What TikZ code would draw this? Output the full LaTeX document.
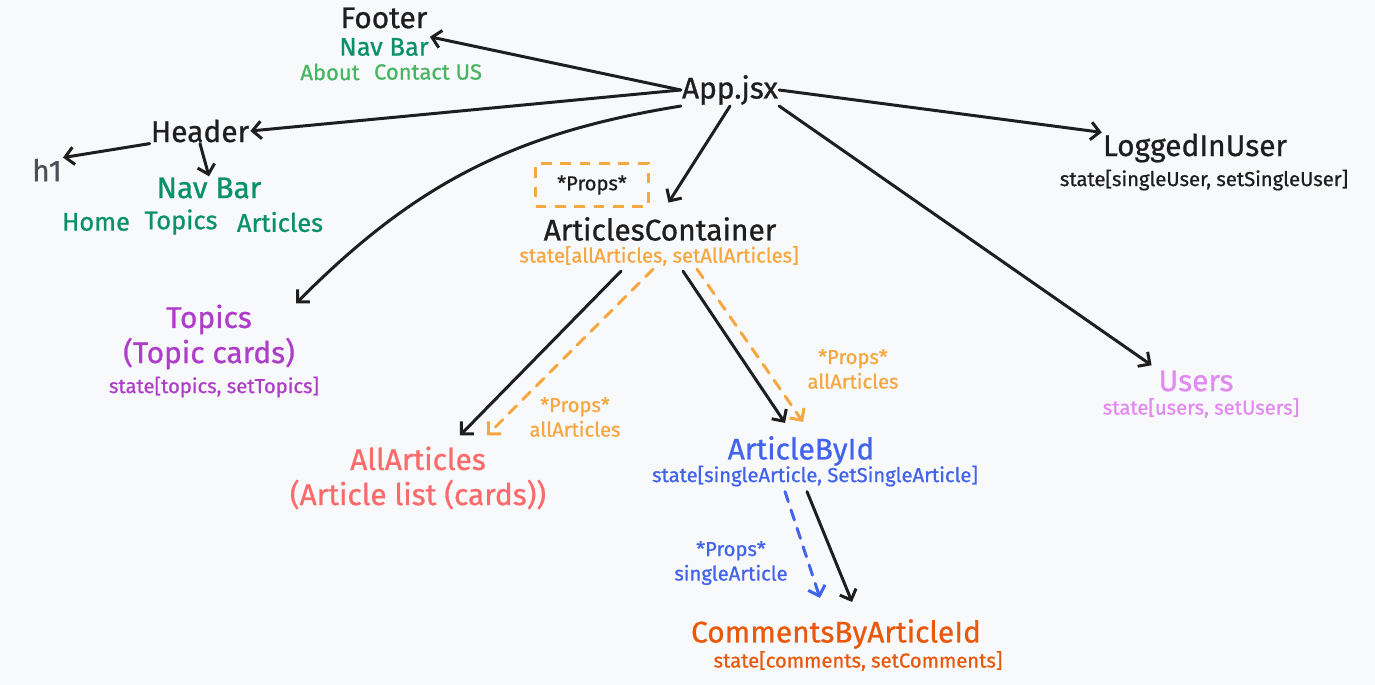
\documentclass[tikz,border=0pt]{standalone}
\usepackage{fontspec}
\setmainfont{Fira Sans}[FakeBold = 0.8]
\usepackage{xcolor}
\usetikzlibrary{arrows.meta,positioning,calc}
\definecolor{ink}{HTML}{1E1E1E}
\definecolor{paper}{HTML}{F8F9FB}
\definecolor{navgreen}{HTML}{099268}
\definecolor{lightgreen}{HTML}{47B562}
\definecolor{hgrey}{HTML}{495057}
\definecolor{propor}{HTML}{F5A742}
\definecolor{topicpurple}{HTML}{AE3EC9}
\definecolor{userviolet}{HTML}{E28AF2}
\definecolor{listred}{HTML}{FA6B6B}
\definecolor{byidblue}{HTML}{4263EB}
\definecolor{commentor}{HTML}{E8590C}

\begin{document}
\begin{tikzpicture}[x = .02cm, y = -.02cm,
  every node/.style = {inner sep = 0.5pt, text = ink},
  title/.style = {font = \fontsize{17}{20}\selectfont},
  item/.style = {font = \fontsize{14.5}{17}\selectfont},
  small/.style = {font = \fontsize{11.5}{14}\selectfont},
  link/.style = {-{Straight Barb[length=5pt,width=10pt]}, line width = 1.7pt, ink, line cap = round},
  plink/.style = {link, dash pattern = on 6pt off 5pt}]
\fill[paper] (0,0) rectangle (1375,685);
\useasboundingbox (0,0) rectangle (1375,685);

% app and footer
\node[title] (app) at (730,90) {App.jsx};
\node[title] (footer) at (384,18) {Footer};
\node[item, text = navgreen] (fnav) at (384,47) {Nav Bar};
\node[font = \fontsize{12.5}{15}\selectfont, text = lightgreen] (about) at (330,72) {About};
\node[font = \fontsize{12.5}{15}\selectfont, text = lightgreen] (contact) at (428,72) {Contact US};

% header
\node[title] (header) at (200,131) {Header};
\node[title, text = hgrey] (h1) at (47,170) {h1};
\node[title, text = navgreen] (hnav) at (209,188) {Nav Bar};
\node[item, text = navgreen] (home) at (96,222) {Home};
\node[item, text = navgreen] (htopics) at (181,222) {Topics};
\node[item, text = navgreen] (harticles) at (280,222) {Articles};

% logged in user and users
\node[title] (liu) at (1195,148) {LoggedInUser};
\node[small] (liustate) at (1204,180) {state[singleUser, setSingleUser]};
\node[title, text = userviolet] (users) at (1196,381) {Users};
\node[small, text = userviolet] (usersstate) at (1201,408) {state[users, setUsers]};

% topics
\node[title, text = topicpurple, align = center] (topics) at (209,337) {Topics\\(Topic cards)};
\node[small, text = topicpurple] (topicsstate) at (214,387) {state[topics, setTopics]};

% articles container
\node[small, draw = propor, line width = 1.7pt, dash pattern = on 6pt off 5pt,
  minimum width = 64pt, minimum height = 24pt] (pbox) at (592,185) {*Props*};
\node[title] (ac) at (660,229) {ArticlesContainer};
\node[small, text = propor] (acstate) at (659,256) {state[allArticles, setAllArticles]};

\node[title, text = listred, align = center] (aa) at (418,478) {AllArticles\\(Article list (cards))};
\node[small, text = propor, align = center] (aaprops) at (575,417) {*Props*\\allArticles};

\node[title, text = byidblue] (abi) at (801,451) {ArticleById};
\node[small, text = byidblue] (abistate) at (815,476) {state[singleArticle, SetSingleArticle]};
\node[small, text = propor, align = center] (abiprops) at (853,369) {*Props*\\allArticles};

\node[title, text = commentor] (cba) at (836,634) {CommentsByArticleId};
\node[small, text = commentor] (cbastate) at (858,661) {state[comments, setComments]};
\node[small, text = byidblue, align = center] (cbaprops) at (731,563) {*Props*\\singleArticle};

% arrows
\draw[link] (app.west) -- (fnav.north east);
\draw[link] (app.west) -- (header.east);
\draw[link] (header.south west) -- (h1.north east);
\draw[link] (header.south) -- (hnav.north);
\draw[link] (app.south west) to[bend right = 18] (topics.north east);
\draw[link, shorten > = 9pt] (app.south) -- (ac.north);
\draw[link] (app.east) -- (liu.north west);
\draw[link, shorten > = 4pt] (app.south east) -- (users.north west);

\draw[link] ($(acstate.south)+(-38,4)$) -- ($(aa.north)+(42,-10)$);
\draw[plink, propor] ($(acstate.south)+(-6,2)$) -- ($(aa.north)+(69,-10)$);
\draw[link] ($(acstate.south)+(24,4)$) -- ($(abi.north)+(-16,-12)$);
\draw[plink, propor] ($(acstate.south)+(38,2)$) -- ($(abi.north)+(2,-13)$);

\draw[link] ($(abistate.south)+(-8,4)$) -- ($(cba.north)+(16,-16)$);
\draw[plink, byidblue] ($(abistate.south)+(-30,4)$) -- ($(cba.north)+(-16,-20)$);
\end{tikzpicture}
\end{document}
